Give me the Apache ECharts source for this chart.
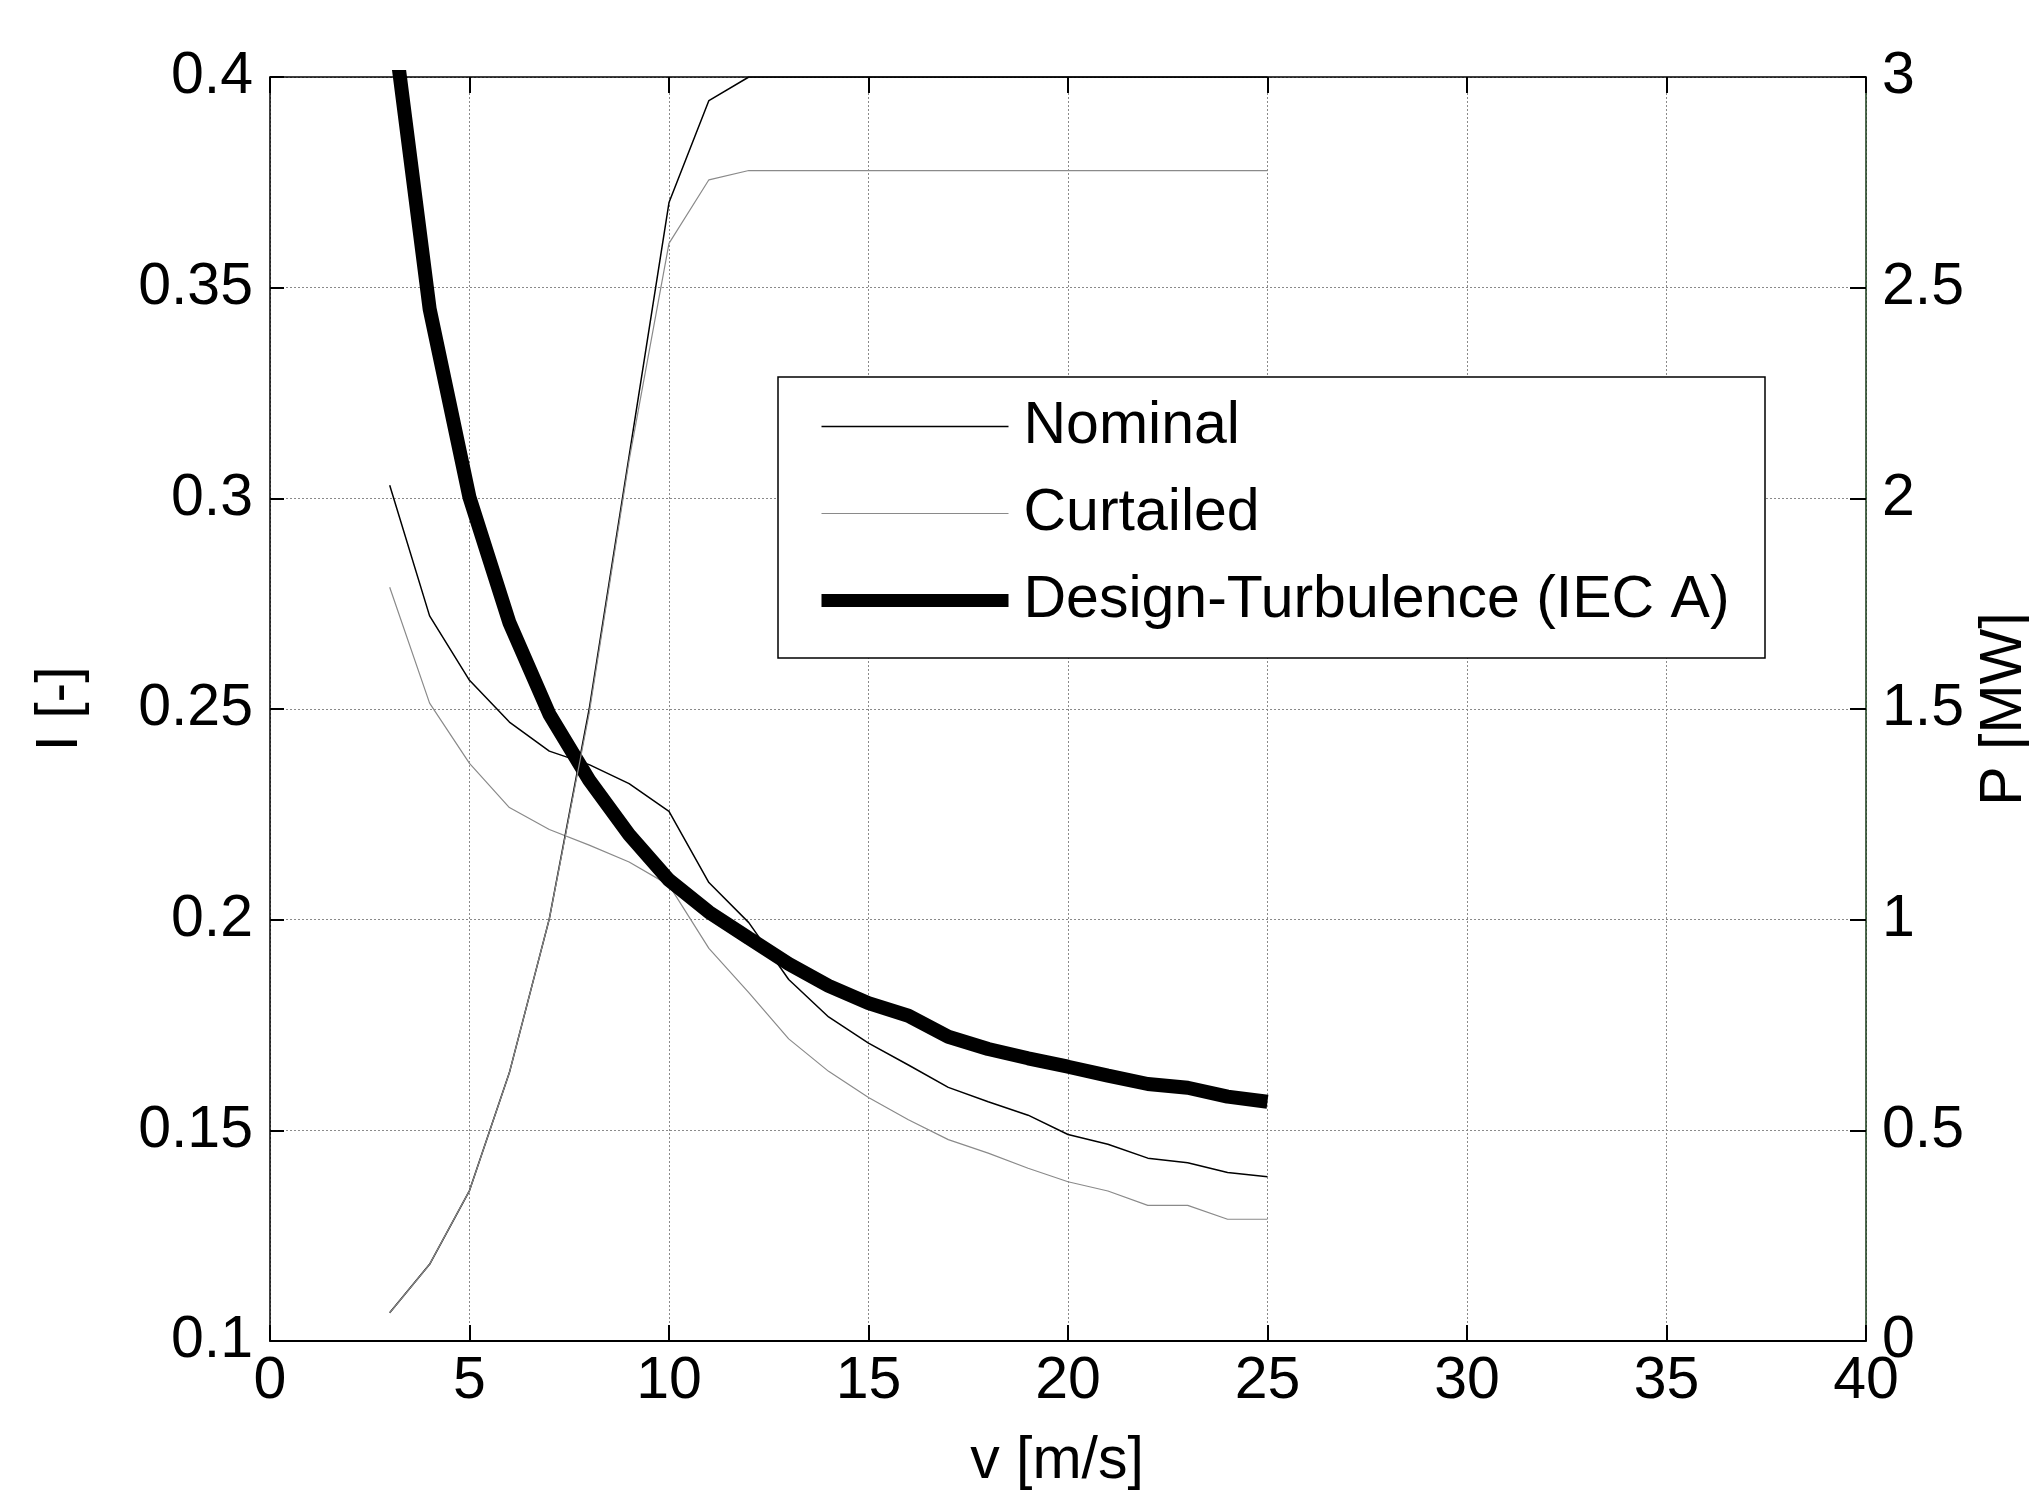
<!DOCTYPE html>
<html>
<head>
<meta charset="utf-8">
<script src="https://cdn.jsdelivr.net/npm/echarts@6/dist/echarts.min.js"></script>
<style>
html,body{margin:0;padding:0;background:#fff;}
#c{width:2029px;height:1495px;}
</style>
</head>
<body>
<div id="c"></div>
<script>
const speeds = [3,4,5,6,7,8,9,10,11,12,13,14,15,16,17,18,19,20,21,22,23,24,25];
const nominalI = [0.3031,0.2721,0.2568,0.2469,0.2400,0.2368,0.2323,0.2257,0.2088,0.1993,0.1858,0.1769,0.1707,0.1655,0.1602,0.1568,0.1536,0.1490,0.1467,0.1434,0.1423,0.1400,0.1390];
const curtailedI = [0.2789,0.2514,0.2371,0.2266,0.2214,0.2177,0.2137,0.2082,0.1932,0.1827,0.1717,0.1640,0.1578,0.1525,0.1478,0.1446,0.1410,0.1378,0.1356,0.1322,0.1322,0.1289,0.1289];
const designI = [0.419,0.345,0.3002,0.2705,0.2488,0.2331,0.2202,0.2094,0.2018,0.1956,0.1895,0.1843,0.1802,0.1772,0.1722,0.1693,0.1671,0.1651,0.1630,0.1610,0.1601,0.1580,0.1568];
const nominalP = [0.067,0.182,0.357,0.637,1.002,1.50,2.10,2.702,2.944,3.0,3.0,3.0,3.0,3.0,3.0,3.0,3.0,3.0,3.0,3.0,3.0,3.0,3.0];
const curtailedP = [0.067,0.182,0.357,0.637,1.002,1.49,2.09,2.605,2.756,2.778,2.778,2.778,2.778,2.778,2.778,2.778,2.778,2.778,2.778,2.778,2.778,2.778,2.778];
const xTicks = ['0','5','10','15','20','25','30','35','40'];
const leftTicks = ['0.1','0.15','0.2','0.25','0.3','0.35','0.4'];
const rightTicks = ['0','0.5','1','1.5','2','2.5','3'];
const names = ['Nominal','Curtailed','Design-Turbulence (IEC A)'];

const pairs = arr => speeds.map((v,i)=>[v,arr[i]]);
const FONT = "'Liberation Sans', Arial, Helvetica, sans-serif";
const FS = 59;
const grid = {left:270, right:163, top:77, bottom:154, containLabel:false, outerBoundsMode:'none'};

const chart = echarts.init(document.getElementById('c'), null, {renderer:'canvas'});
const labelStyle = {fontSize:FS, fontFamily:FONT, color:'#000'};
const option = {
  backgroundColor:'#fff',
  animation:false,
  grid: grid,
  xAxis: [{
    type:'value', min:0, max:40, interval:5, position:'bottom',
    name:'v [m/s]', nameLocation:'middle', nameGap:91,
    nameTextStyle:Object.assign({padding:[0,22,0,0]}, labelStyle),
    axisLine:{show:true, onZero:false, lineStyle:{color:'#000', width:2}},
    axisTick:{show:true, inside:true, length:16, lineStyle:{color:'#000', width:2}},
    axisLabel:Object.assign({margin:11, formatter:(v)=>xTicks[Math.round(v/5)]}, labelStyle),
    splitLine:{show:true, lineStyle:{color:'#8a8a8a', width:1, type:[2,2]}}
  },{
    type:'value', min:0, max:40, interval:5, position:'top',
    axisLine:{show:true, onZero:false, lineStyle:{color:'#000', width:1.5}},
    axisTick:{show:true, inside:true, length:16, lineStyle:{color:'#000', width:2}},
    axisLabel:{show:false}, splitLine:{show:false}
  }],
  yAxis: [{
    type:'value', min:0.1, max:0.4, interval:0.05, position:'left',
    name:'I [-]', nameLocation:'middle', nameGap:180, nameRotate:90,
    nameTextStyle:labelStyle,
    axisLine:{show:true, onZero:false, lineStyle:{color:'#000', width:1.5}},
    axisTick:{show:true, inside:true, length:14, lineStyle:{color:'#000', width:2}},
    axisLabel:Object.assign({margin:17, padding:[0,0,20,0], formatter:(v)=>leftTicks[Math.round((v-0.1)/0.05)]}, labelStyle),
    splitLine:{show:true, lineStyle:{color:'#8a8a8a', width:1, type:[2,2]}}
  },{
    type:'value', min:0, max:3, interval:0.5, position:'right',
    name:'P [MW]', nameLocation:'middle', nameGap:108, nameRotate:90,
    nameTextStyle:labelStyle,
    axisLine:{show:true, onZero:false, lineStyle:{color:'#173a17', width:1.5}},
    axisTick:{show:true, inside:true, length:16, lineStyle:{color:'#000', width:2}},
    axisLabel:Object.assign({margin:16, padding:[0,0,20,0], formatter:(v)=>rightTicks[Math.round(v/0.5)]}, labelStyle),
    splitLine:{show:false}
  }],
  legend: {
    show:true,
    orient:'vertical', left:815, top:397, padding:0, itemGap:28,
    itemWidth:187, itemHeight:14,
    formatter: (name) => '{t|' + name + '}',
    textStyle:{fontSize:FS, fontFamily:FONT, color:'#000',
      rich:{t:{fontSize:FS, fontFamily:FONT, color:'#000', padding:[0,0,0,10]}}},
    data:[
      {name:names[0], itemStyle:{opacity:0}, lineStyle:{width:1.5, color:'#000'}},
      {name:names[1], itemStyle:{opacity:0}, lineStyle:{width:1.2, color:'#8a8a8a'}},
      {name:names[2], itemStyle:{opacity:0}, lineStyle:{width:13, color:'#000'}}
    ]
  },
  graphic: [{
    type:'rect', z:3, silent:true, shape:{x:778, y:377, width:987, height:281},
    style:{fill:'#fff', stroke:'#000', lineWidth:1.5}
  }],
  series: [
    {name:names[0], type:'line', xAxisIndex:0, yAxisIndex:0, data:pairs(nominalI), symbol:'none', lineStyle:{color:'#000', width:1.5}, itemStyle:{color:'#000'}},
    {name:names[1], type:'line', xAxisIndex:0, yAxisIndex:0, data:pairs(curtailedI), symbol:'none', lineStyle:{color:'#8a8a8a', width:1.2}, itemStyle:{color:'#8a8a8a'}},
    {name:names[2], type:'line', xAxisIndex:0, yAxisIndex:0, data:pairs(designI), symbol:'none', lineStyle:{color:'#000', width:14}, itemStyle:{color:'#000'}},
    {name:'Nominal P', type:'line', xAxisIndex:0, yAxisIndex:1, data:pairs(nominalP), symbol:'none', lineStyle:{color:'#000', width:1.5}},
    {name:'Curtailed P', type:'line', xAxisIndex:0, yAxisIndex:1, data:pairs(curtailedP), symbol:'none', lineStyle:{color:'#8a8a8a', width:1.2}}
  ]
};
chart.setOption(option);
</script>
</body>
</html>
